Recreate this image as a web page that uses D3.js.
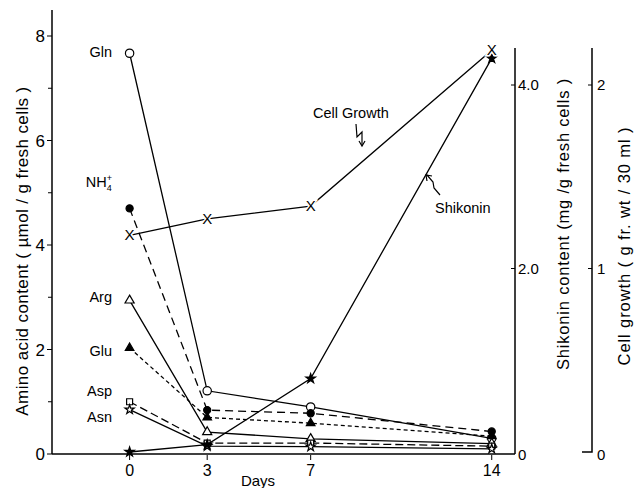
<!DOCTYPE html>
<html>
<head>
<meta charset="utf-8">
<script src="https://cdn.jsdelivr.net/npm/d3@7"></script>
<style>
  body { margin: 0; background: #fff; }
  svg { font-family: "Liberation Sans", Arial, sans-serif; }
</style>
</head>
<body>
<svg></svg>
<script>
// data
let days = [0, 3, 7, 14]
let dayTicks = ['0', '3', '7', '14']

let gln = [7.67, 1.21, 0.90, 0.30]
let nh4 = [4.70, 0.84, 0.78, 0.43]
let arg = [2.94, 0.42, 0.29, 0.20]
let glu = [2.03, 0.70, 0.59, 0.34]
let asp = [1.00, 0.21, 0.21, 0.15]
let asn = [0.85, 0.15, 0.14, 0.10]

let shikonin = [0, 0.08, 0.80, 4.29]
let cellGrowth = [1.18, 1.27, 1.34, 2.19]

let aminoTicks = [0, 2, 4, 6, 8]
let shikoninTicks = [0, 2, 4]
let growthTicks = [0, 1, 2]

let svg = d3.select('svg').attr('width', 636).attr('height', 488)

let x = d3.scaleLinear().domain([-3, 14.9]).range([52, 515])
let yA = d3.scaleLinear().domain([0, 8]).range([454, 36])
let yS = d3.scaleLinear().domain([0, 4]).range([452, 85])
let yG = d3.scaleLinear().domain([0, 2]).range([452, 85])

// axes lines
svg.append('line').attr('x1', 52).attr('x2', 52).attr('y1', 10).attr('y2', 454)
  .attr('stroke', 'black').attr('stroke-width', 1.5)
svg.append('line').attr('x1', 52).attr('x2', 515).attr('y1', 454).attr('y2', 454)
  .attr('stroke', 'black').attr('stroke-width', 1.5)
svg.append('line').attr('x1', 515).attr('x2', 515).attr('y1', 48).attr('y2', 454)
  .attr('stroke', 'black').attr('stroke-width', 1.5)
svg.append('path').attr('d', 'M582,452H592V48')
  .attr('fill', 'none').attr('stroke', 'black').attr('stroke-width', 1.5)

// left ticks, major + odd minor
svg.selectAll('.minorA').data([1, 3, 5, 7]).enter().append('line')
  .attr('x1', 48).attr('x2', 52).attr('y1', d => yA(d)).attr('y2', d => yA(d))
  .attr('stroke', 'black')
svg.selectAll('.majorA').data(aminoTicks).enter().append('line')
  .attr('x1', 47).attr('x2', 52).attr('y1', d => yA(d)).attr('y2', d => yA(d))
  .attr('stroke', 'black')
svg.selectAll('.labA').data(aminoTicks).enter().append('text')
  .attr('x', 45).attr('y', d => yA(d) + 6).attr('text-anchor', 'end')
  .attr('font-size', 17).text(d => d)

// right ticks
svg.selectAll('.tickS').data(shikoninTicks.slice(1)).enter().append('line')
  .attr('x1', 511).attr('x2', 515).attr('y1', d => yS(d)).attr('y2', d => yS(d))
  .attr('stroke', 'black')
svg.selectAll('.labS').data(shikoninTicks).enter().append('text')
  .attr('x', 518).attr('y', d => yS(d) + 5 + (d == 0 ? 3 : 0))
  .attr('font-size', 15).text(d => d == 0 ? '0' : d.toFixed(1))
svg.selectAll('.tickG').data(growthTicks.slice(1)).enter().append('line')
  .attr('x1', 588).attr('x2', 592).attr('y1', d => yG(d)).attr('y2', d => yG(d))
  .attr('stroke', 'black')
svg.selectAll('.labG').data(growthTicks).enter().append('text')
  .attr('x', 597).attr('y', d => yG(d) + 5 + (d == 0 ? 3 : 0))
  .attr('font-size', 15).text(d => d)

// bottom ticks
svg.selectAll('.tickX').data(days).enter().append('line')
  .attr('x1', d => x(d)).attr('x2', d => x(d)).attr('y1', 455).attr('y2', 460)
  .attr('stroke', 'black')
svg.selectAll('.labX').data(days).enter().append('text')
  .attr('x', d => x(d)).attr('y', 476).attr('text-anchor', 'middle')
  .attr('font-size', 16).text((d, i) => dayTicks[i])

// axis titles
svg.append('text').attr('x', 258).attr('y', 486).attr('text-anchor', 'middle')
  .attr('font-size', 15).text('Days')
svg.append('text').attr('transform', 'translate(28,251) rotate(-90)')
  .attr('text-anchor', 'middle').attr('font-size', 17).attr('letter-spacing', 0.4)
  .text('Amino acid  content ( µmol / g fresh cells )')
svg.append('text').attr('transform', 'translate(569,224) rotate(-90)')
  .attr('text-anchor', 'middle').attr('font-size', 16.5).attr('letter-spacing', 0.8)
  .text('Shikonin content (mg /g fresh cells )')
svg.append('text').attr('transform', 'translate(630,246) rotate(-90)')
  .attr('text-anchor', 'middle').attr('font-size', 16.5).attr('letter-spacing', 0.9)
  .text('Cell  growth  ( g  fr. wt / 30 ml )')

// series
let series = [
  {name: 'Gln', v: gln, y: yA, dash: null, sym: d3.symbolCircle, fill: 'white', size: 55, ly: -1},
  {name: 'NH4', v: nh4, y: yA, dash: '8,5', sym: d3.symbolCircle, fill: 'black', size: 40, ly: -26},
  {name: 'Arg', v: arg, y: yA, dash: null, sym: d3.symbolTriangle, fill: 'white', size: 36, ly: -3},
  {name: 'Glu', v: glu, y: yA, dash: '4,3', sym: d3.symbolTriangle, fill: 'black', size: 32, ly: 3},
  {name: 'Asp', v: asp, y: yA, dash: '8,4', sym: d3.symbolSquare, fill: 'white', size: 36, ly: -11},
  {name: 'Asn', v: asn, y: yA, dash: null, sym: d3.symbolStar, fill: 'white', size: 26, ly: 7},
  {name: 'Shikonin', v: shikonin, y: yS, dash: null, sym: d3.symbolStar, fill: 'black', size: 28},
  {name: 'Cell Growth', v: cellGrowth, y: yG, dash: null, sym: null}
]

let lineGen = d3.line()

series.forEach(s => {
  let pts = days.map((d, i) => [x(d), s.y(s.v[i])])
  svg.append('path')
    .attr('d', lineGen(pts))
    .attr('fill', 'none')
    .attr('stroke', 'black')
    .attr('stroke-width', 1.3)
    .attr('stroke-dasharray', s.dash)
  if (s.sym) {
    svg.selectAll(null).data(pts).enter().append('path')
      .attr('transform', d => 'translate(' + d[0] + ',' + d[1] + ')')
      .attr('d', d3.symbol().type(s.sym).size(s.size))
      .attr('fill', s.fill).attr('stroke', 'black').attr('stroke-width', 1.2)
  } else {
    svg.selectAll(null).data(pts).enter().append('text')
      .attr('x', d => d[0]).attr('y', d => d[1] + 5)
      .attr('text-anchor', 'middle').attr('font-size', 15)
      .attr('stroke', 'white').attr('stroke-width', 3).attr('paint-order', 'stroke')
      .text('X')
  }
})

// left-side amino acid labels
series.slice(0, 6).forEach(s => {
  let t = svg.append('text')
    .attr('x', 112).attr('y', yA(s.v[0]) + s.ly + 5)
    .attr('text-anchor', 'end').attr('font-size', 14.5)
  if (s.name == 'NH4') {
    t.append('tspan').text('NH')
    t.append('tspan').attr('font-size', 9).attr('dy', 4).text('4')
    t.append('tspan').attr('font-size', 9).attr('dx', -5).attr('dy', -10).text('+')
  } else {
    t.text(s.name)
  }
})

// annotations
svg.append('text').attr('x', 313).attr('y', 118).attr('font-size', 14.5).text('Cell Growth')
svg.append('path').attr('d', 'M356,124L357,137L362,132L362,145')
  .attr('fill', 'none').attr('stroke', 'black').attr('stroke-width', 1.2)
svg.append('path').attr('d', 'M359,141L362,146L365,141')
  .attr('fill', 'none').attr('stroke', 'black').attr('stroke-width', 1.2)
svg.append('text').attr('x', 435).attr('y', 213).attr('font-size', 14.5).text('Shikonin')
svg.append('path').attr('d', 'M440,195L434,188L433,182L427,175')
  .attr('fill', 'none').attr('stroke', 'black').attr('stroke-width', 1.2)
svg.append('path').attr('d', 'M427,181L426,175L432,176')
  .attr('fill', 'none').attr('stroke', 'black').attr('stroke-width', 1.2)
</script>
</body>
</html>
